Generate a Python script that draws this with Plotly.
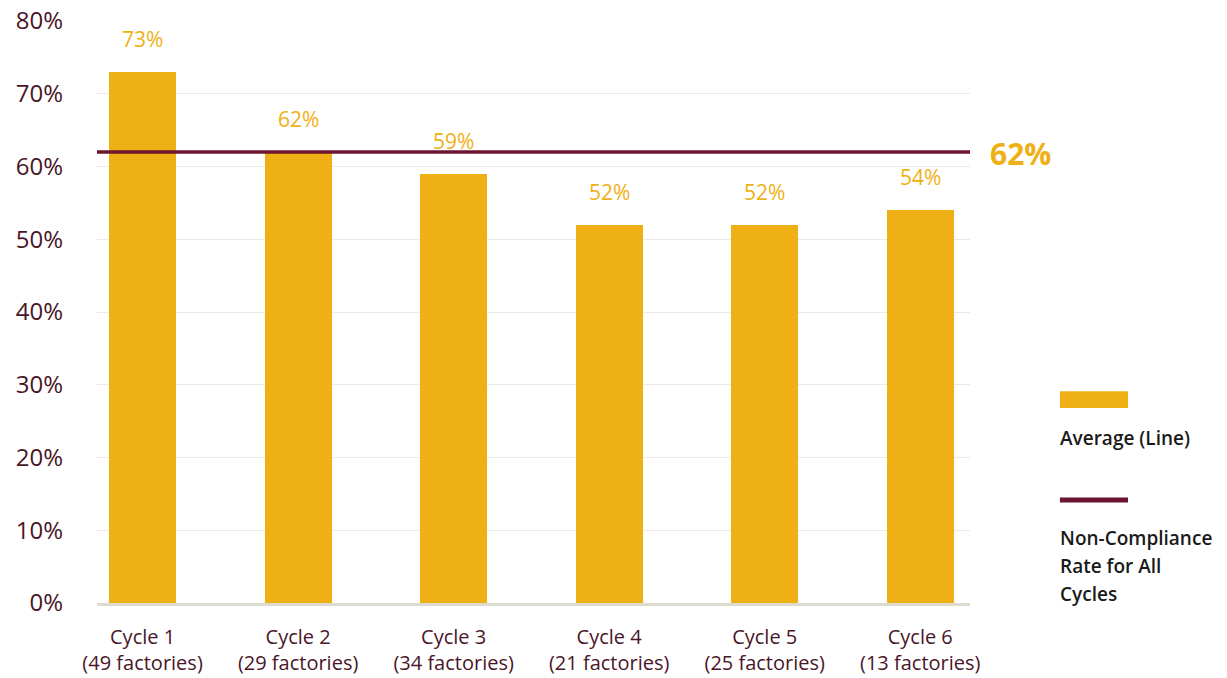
import plotly.graph_objects as go

cycles = ["Cycle 1", "Cycle 2", "Cycle 3", "Cycle 4", "Cycle 5", "Cycle 6"]
factories = [49, 29, 34, 21, 25, 13]
rates = [73, 62, 59, 52, 52, 54]
overall_rate = 62
y_ticks = [0, 10, 20, 30, 40, 50, 60, 70, 80]
legend_bar_label = "Average (Line)"
legend_line_label = ["Non-Compliance", "Rate for All", "Cycles"]

GOLD = "#EFB015"
MAROON = "#6B1530"
TXT = "#4A1628"
FONT = "Open Sans"

xpos = list(range(len(cycles)))
ticktext = [f"{c}<br>({n} factories)" for c, n in zip(cycles, factories)]

fig = go.Figure()
fig.add_trace(go.Bar(x=xpos, y=rates, marker=dict(color=GOLD, line=dict(width=0)),
                     width=0.43, showlegend=False, hoverinfo="skip"))

for x, r in zip(xpos, rates):
    fig.add_annotation(x=x, y=r, text=f"{r}%", showarrow=False, yanchor="bottom",
                       yshift=17, font=dict(family=FONT, size=21, color=GOLD))

fig.add_shape(type="line", xref="paper", x0=0, x1=1, yref="y", y0=overall_rate, y1=overall_rate,
              line=dict(color=MAROON, width=3.5), layer="above")
fig.add_annotation(xref="paper", x=1.021, y=overall_rate, xanchor="left", yanchor="middle",
                   text=f"<b>{overall_rate}%</b>", showarrow=False, yshift=-2,
                   font=dict(family=FONT, size=30, color=GOLD))

# custom legend
fig.add_shape(type="rect", xref="paper", yref="paper", x0=1.103, x1=1.181, y0=0.335, y1=0.364,
              fillcolor=GOLD, line=dict(width=0))
fig.add_annotation(xref="paper", yref="paper", x=1.101, y=0.2835, xanchor="left", yanchor="middle",
                   text=legend_bar_label, showarrow=False, align="left",
                   font=dict(family=FONT, size=19, color="#1a1a1a", weight=600))
fig.add_shape(type="line", xref="paper", yref="paper", x0=1.103, x1=1.181, y0=0.177, y1=0.177,
              line=dict(color=MAROON, width=5))
for i, line in enumerate(legend_line_label):
    fig.add_annotation(xref="paper", yref="paper", x=1.101, y=0.1116 - i * 0.0481,
                       xanchor="left", yanchor="middle",
                       text=line, showarrow=False, align="left",
                       font=dict(family=FONT, size=19, color="#1a1a1a", weight=600))

fig.update_layout(
    width=1227, height=678,
    margin=dict(l=97, r=257, t=21, b=75, autoexpand=False),
    plot_bgcolor="white", paper_bgcolor="white",
    bargap=0,
    xaxis=dict(tickmode="array", tickvals=xpos, ticktext=ticktext, range=[-0.293, 5.32],
               showgrid=False, zeroline=False, showline=True, linecolor="#DDDAD0", linewidth=3,
               ticks="", ticklabelstandoff=14, automargin=False,
               tickfont=dict(family=FONT, size=20, color=TXT)),
    yaxis=dict(range=[0, 80], tickvals=y_ticks, ticktext=[f"{t}%" for t in y_ticks],
               showgrid=True, gridcolor="#ECEAE3", gridwidth=1, zeroline=False,
               ticks="", ticklabelstandoff=33, automargin=False,
               tickfont=dict(family=FONT, size=24, color=TXT)),
)

fig.write_html("out.html")
